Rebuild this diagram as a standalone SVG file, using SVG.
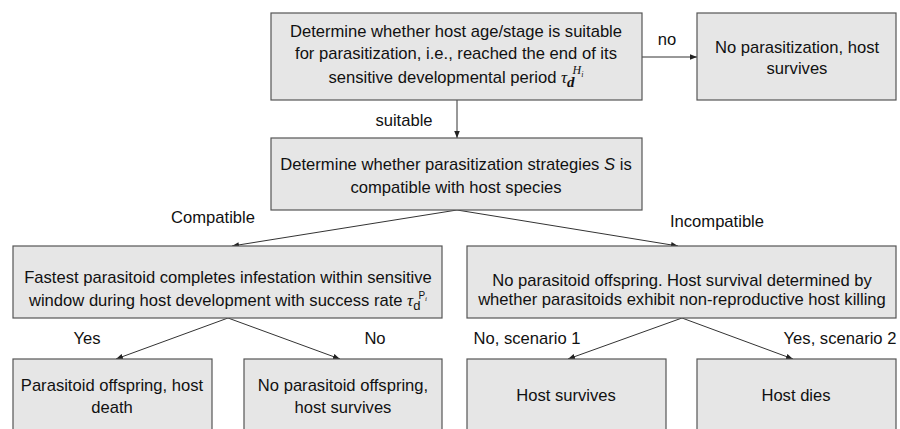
<svg xmlns="http://www.w3.org/2000/svg" width="900" height="429" viewBox="0 0 900 429">
<defs>
<marker id="ah" viewBox="0 0 10 10" refX="10" refY="5" markerWidth="7" markerHeight="7" markerUnits="userSpaceOnUse" orient="auto">
<path d="M0,1 L10,5 L0,9 z" fill="#222"/>
</marker>
<style>
.box{fill:#e6e6e6;stroke:#555;stroke-width:1.2}
.t{font-family:"Liberation Sans",Arial,sans-serif;font-size:16.6px;fill:#111;text-anchor:middle}
.lab{font-family:"Liberation Sans",Arial,sans-serif;font-size:16.6px;fill:#111;text-anchor:middle}
.c{stroke:#333;stroke-width:1;fill:none;marker-end:url(#ah)}
.m{font-family:"Liberation Serif",serif;font-style:italic}
</style>
</defs>
<rect width="900" height="429" fill="#fff"/>
<g id="connectors">
<line class="c" x1="642" y1="57" x2="697" y2="57"/>
<line class="c" x1="457" y1="100" x2="457" y2="138"/>
<line class="c" x1="457" y1="210" x2="232" y2="246"/>
<line class="c" x1="457" y1="210" x2="678" y2="246"/>
<line class="c" x1="228" y1="318" x2="116" y2="359"/>
<line class="c" x1="228" y1="318" x2="340" y2="359"/>
<line class="c" x1="682" y1="318" x2="568" y2="359"/>
<line class="c" x1="682" y1="318" x2="793" y2="359"/>
<text class="lab" x="667" y="45">no</text>
<text class="lab" x="404" y="126">suitable</text>
<text class="lab" x="213" y="223">Compatible</text>
<text class="lab" x="717" y="227">Incompatible</text>
<text class="lab" x="87" y="344">Yes</text>
<text class="lab" x="375" y="344">No</text>
<text class="lab" x="527" y="344">No, scenario 1</text>
<text class="lab" x="840" y="344">Yes, scenario 2</text>
</g>
<g id="n1">
<rect class="box" x="271" y="13" width="371" height="87"/>
<text class="t" x="456" y="37">Determine whether host age/stage is suitable</text>
<text class="t" x="456" y="59">for parasitization, i.e., reached the end of its</text>
<text class="t" x="456" y="83">sensitive developmental period <tspan class="m" font-size="17">τ</tspan><tspan class="m" font-size="15" font-weight="bold" dy="4">d</tspan><tspan class="m" font-size="12" dx="-2" dy="-13">H</tspan><tspan class="m" font-size="8" dy="3">i</tspan></text>
</g>
<g id="n2">
<rect class="box" x="697" y="13" width="199" height="87"/>
<text class="t" x="797" y="53">No parasitization, host</text>
<text class="t" x="797" y="74">survives</text>
</g>
<g id="n3">
<rect class="box" x="271" y="138" width="371" height="72"/>
<text class="t" x="456" y="170">Determine whether parasitization strategies <tspan font-style="italic">S</tspan> is</text>
<text class="t" x="456" y="193">compatible with host species</text>
</g>
<g id="n4">
<rect class="box" x="13" y="246" width="429" height="72"/>
<text class="t" x="228" y="283">Fastest parasitoid completes infestation within sensitive</text>
<text class="t" x="228" y="306">window during host development with success rate <tspan class="m" font-size="17">τ</tspan><tspan font-family="Liberation Sans" font-size="13" dy="4">d</tspan><tspan font-family="Liberation Sans" font-size="10" dx="-2" dy="-11">P</tspan><tspan class="m" font-size="7" dy="2">i</tspan></text>
</g>
<g id="n5">
<rect class="box" x="467" y="246" width="429" height="72"/>
<text class="t" x="682" y="286">No parasitoid offspring. Host survival determined by</text>
<text class="t" x="682" y="305">whether parasitoids exhibit non-reproductive host killing</text>
</g>
<g id="n6">
<rect class="box" x="13" y="359" width="199" height="80"/>
<text class="t" x="112" y="391">Parasitoid offspring, host</text>
<text class="t" x="112" y="413">death</text>
</g>
<g id="n7">
<rect class="box" x="244" y="359" width="198" height="80"/>
<text class="t" x="343" y="391">No parasitoid offspring,</text>
<text class="t" x="343" y="413">host survives</text>
</g>
<g id="n8">
<rect class="box" x="467" y="359" width="199" height="80"/>
<text class="t" x="566" y="401">Host survives</text>
</g>
<g id="n9">
<rect class="box" x="697" y="359" width="199" height="80"/>
<text class="t" x="796" y="401">Host dies</text>
</g>
</svg>
